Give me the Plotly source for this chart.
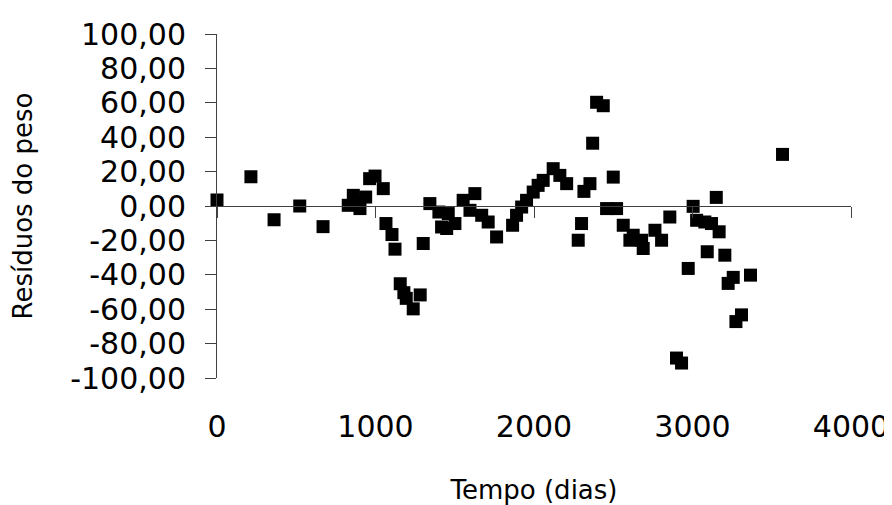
import plotly.graph_objects as go

# Data
tempo_dias = [0, 214, 360, 522, 669, 828, 860, 881, 902, 938, 963, 997, 1049, 1066, 1104, 1123,
              1156, 1179, 1194, 1238, 1282, 1301, 1343, 1400, 1417, 1449, 1459, 1501, 1553, 1596,
              1627, 1670, 1711, 1764, 1865, 1890, 1922, 1953, 1995, 2026, 2058, 2121, 2163, 2206,
              2279, 2300, 2315, 2353, 2370, 2395, 2437, 2458, 2500, 2521, 2563, 2605, 2626, 2679,
              2689, 2763, 2805, 2857, 2899, 2931, 2973, 3004, 3026, 3078, 3093, 3120, 3150, 3168,
              3204, 3225, 3257, 3274, 3309, 3366, 3568]
residuos = [3.5, 17, -8, 0, -12, 0.4, 6.2, 3.3, -1.5, 5.2, 15.9, 17.4, 10.1, -10.2, -16.6, -25.1,
            -45.2, -50.4, -53.7, -59.8, -51.7, -21.8, 1.4, -3.5, -12.2, -13.1, -4.4, -10.2, 3.3, -2.5,
            7.2, -5.4, -9.3, -18, -11.2, -5.4, -0.6, 3.3, 8.1, 12, 14.9, 21.7, 17.8, 13,
            -19.9, -10.2, 8.5, 13, 36.5, 60.3, 58.3, -1.5, 16.8, -1.5, -11.2, -19.9, -17, -19.9,
            -24.7, -14.1, -19.9, -6.4, -88.4, -91.3, -36.3, -0.2, -8.3, -9.3, -26.6, -10.2, 5, -15,
            -28.6, -45, -41.5, -67.2, -63.3, -40.2, 30]

x_ticks = [0, 1000, 2000, 3000, 4000]
x_tick_labels = ["0", "1000", "2000", "3000", "4000"]
y_ticks = [100, 80, 60, 40, 20, 0, -20, -40, -60, -80, -100]
y_tick_labels = ["100,00", "80,00", "60,00", "40,00", "20,00", "0,00",
                 "-20,00", "-40,00", "-60,00", "-80,00", "-100,00"]

FONT = "DejaVu Sans"
AXC = "#404040"

fig = go.Figure()
fig.add_trace(go.Scatter(
    x=tempo_dias, y=residuos, mode="markers",
    marker=dict(symbol="square", size=13, color="black", line=dict(width=0)),
    cliponaxis=False, showlegend=False, hoverinfo="skip"))
# empty trace to activate the axis drawn through y = 0
fig.add_trace(go.Scatter(x=[], y=[], xaxis="x2", yaxis="y", showlegend=False))

# the page body adds an 8px margin, so the figure is 8px smaller on each axis
fig.update_layout(
    width=884, height=497,
    margin=dict(l=209, r=41, t=26, b=127, autoexpand=False),
    paper_bgcolor="white", plot_bgcolor="white",
    font=dict(family=FONT, color="black"),
    showlegend=False,
    xaxis=dict(range=[0, 4000], tickvals=x_ticks, ticktext=x_tick_labels,
               showline=False, ticks="", showgrid=False, zeroline=False,
               tickfont=dict(size=30), ticklabelstandoff=28, automargin=False,
               title=dict(text="Tempo (dias)", font=dict(size=26), standoff=44)),
    xaxis2=dict(range=[0, 4000], overlaying="x", anchor="free", position=0.5, side="bottom",
                tickvals=x_ticks, showticklabels=False, showline=True, linecolor=AXC,
                linewidth=1, ticks="outside", ticklen=11, tickcolor=AXC, tickwidth=1,
                showgrid=False, zeroline=False, automargin=False),
    yaxis=dict(range=[-100, 100], tickvals=y_ticks, ticktext=y_tick_labels,
               showline=True, linecolor=AXC, linewidth=1, ticks="outside", ticklen=11,
               tickcolor=AXC, tickwidth=1, showgrid=False, zeroline=False,
               tickfont=dict(size=30), ticklabelstandoff=13, automargin=False,
               title=dict(text="Resíduos do peso", font=dict(size=26), standoff=31)),
)

fig.write_html("out.html")
